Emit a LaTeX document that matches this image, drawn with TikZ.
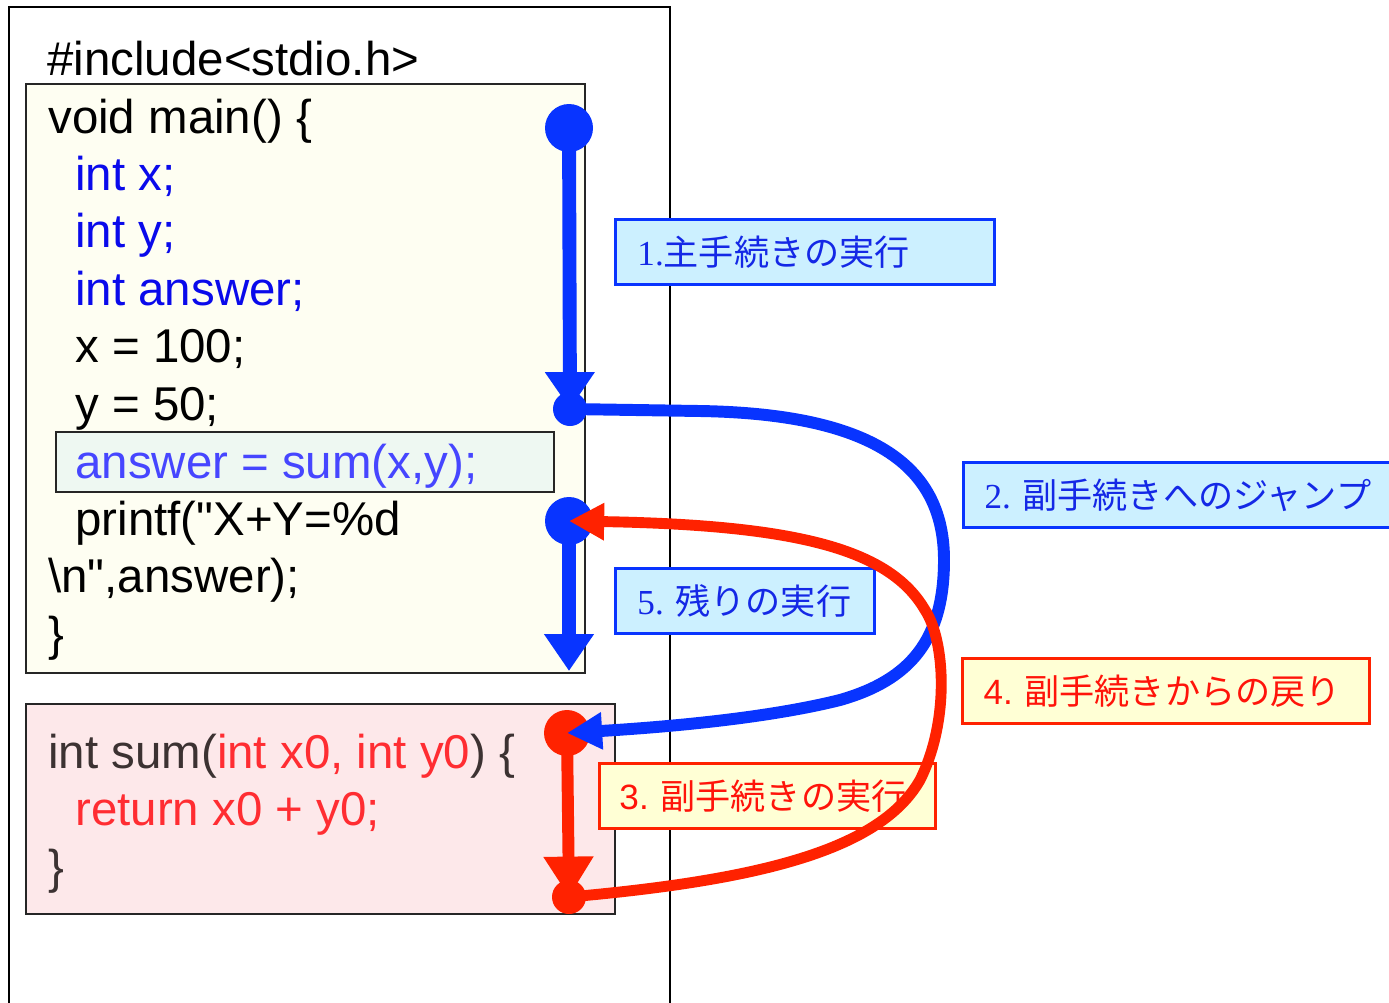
\documentclass[tikz,border=0pt]{standalone}
\usepackage{fontspec}
\setmainfont{Liberation Sans}
\newfontfamily\jp{Noto Sans CJK JP}
\newfontfamily\sernum{Liberation Serif}
\newfontfamily\plainq{Liberation Sans}[Ligatures=ResetAll]
\usetikzlibrary{arrows.meta}
\definecolor{arrblue}{RGB}{8,52,255}
\definecolor{arrred}{RGB}{255,34,0}
\definecolor{codeblue}{RGB}{10,10,235}
\definecolor{calltext}{RGB}{70,70,255}
\definecolor{sumdark}{RGB}{60,50,50}
\definecolor{sumred}{RGB}{255,45,50}
\definecolor{mainfill}{RGB}{254,254,242}
\definecolor{sumfill}{RGB}{253,232,234}
\definecolor{callfill}{RGB}{238,248,242}
\definecolor{labblue}{RGB}{204,240,255}
\definecolor{labyellow}{RGB}{255,255,213}
\definecolor{labbluetext}{RGB}{20,40,230}
\definecolor{labredtext}{RGB}{255,20,10}
\begin{document}
\begin{tikzpicture}[x=0.02cm,y=-0.02cm,
  code/.style={anchor=base west, inner sep=0, font=\fontsize{27}{30}\selectfont},
  codebox/.style={draw=black!85, line width=1.1pt, anchor=north west, inner sep=0},
  lab/.style={line width=1.7pt, anchor=north west, align=left, inner ysep=0,
    minimum height=1.3cm, font=\fontsize{20}{24}\selectfont\jp},
  bluelab/.style={lab, draw=arrblue, fill=labblue, text=labbluetext},
  redlab/.style={lab, draw=arrred, fill=labyellow, text=labredtext},
  bdot/.style={circle, fill=arrblue, inner sep=0},
  rdot/.style={circle, fill=arrred, inner sep=0},
  vflowb/.style={draw=arrblue, line width=7.9pt, -{Triangle[width=27pt,length=21pt]}},
  vflowr/.style={draw=arrred, line width=6.8pt, -{Triangle[width=27pt,length=23pt]}},
  cflowb/.style={draw=arrblue, line width=6.8pt, -{Triangle[width=20pt,length=20pt]}},
  cflowr/.style={draw=arrred, line width=6.2pt, -{Triangle[width=20pt,length=20pt]}}
]
\useasboundingbox (0,0) rectangle (1389,1002);
\clip (0,0) rectangle (1389,1002);

% outer frame (open at the bottom)
\draw[line width=1.3pt] (9,1010) -- (9,7) -- (670,7) -- (670,1010);

% code boxes
\node[codebox, fill=mainfill, minimum width=11.18cm, minimum height=11.78cm] (mainbox) at (25,83) {};
\node[codebox, fill=callfill, minimum width=9.96cm, minimum height=1.2cm] (callbox) at (55,431) {};
\node[codebox, fill=sumfill, minimum width=11.78cm, minimum height=4.2cm] (sumbox) at (25,703) {};

% code text
\node[code] (c0) at (47,75) {\#include<stdio.h>};
\node[code] (c1) at (48,133) {void main() \{};
\node[code, text=codeblue] (c2) at (75,190) {int x;};
\node[code, text=codeblue] (c3) at (75,247) {int y;};
\node[code, text=codeblue] (c4) at (75,305) {int answer;};
\node[code] (c5) at (75,362) {x = 100;};
\node[code] (c6) at (75,420) {y = 50;};
\node[code, text=calltext] (c7) at (75,478) {answer = sum(x,y);};
\node[code] (c8) at (75,535) {printf({\plainq"}X+Y=\%d};
\node[code] (c9) at (48,592) {\textbackslash n{\plainq"},answer);};
\node[code] (c10) at (48,650) {\}};

\node[code, text=sumdark] (s0) at (48,768) {int sum(\textcolor{sumred}{int x0, int y0}) \{};
\node[code, text=sumred] (s1) at (75,825) {return x0 + y0;};
\node[code, text=sumdark] (s2) at (48,883) {\}};

% labels
\node[bluelab, text width=6.7cm, inner xsep=0.44cm] (l1) at (614,218) {{\sernum 1.}主手続きの実行};
\node[bluelab, text width=8.4cm, inner xsep=0.42cm] (l2) at (962,461) {{\sernum 2.}~副手続きへのジャンプ};
\node[bluelab, text width=4.3cm, inner xsep=0.44cm] (l5) at (614,567) {{\sernum 5.}~残りの実行};
\node[redlab, text width=7.3cm, inner xsep=0.42cm] (l4) at (961,657) {{\fontspec{Liberation Sans}4.}~副手続きからの戻り};
\node[redlab, text width=5.92cm, inner xsep=0.4cm] (l3) at (598,762) {{\fontspec{Liberation Sans}3.}~副手続きの実行};

% dots
\node[bdot, minimum size=0.96cm] (b1) at (569,128) {};
\node[bdot, minimum size=0.68cm] (b2) at (570,409) {};
\node[bdot, minimum size=0.96cm] (b3) at (569,521) {};
\coordinate (b4) at (569,671);
\node[rdot, minimum size=0.92cm] (r1) at (567,733) {};
\node[rdot, minimum size=0.68cm] (r2) at (569,897) {};

% vertical flow arrows
\draw[vflowb] (b1.center) -- (b2.center);
\draw[vflowb] (b3.center) -- (b4);
\draw[vflowr] (r1.center) -- (r2.center);

% jump and return curves
\draw[cflowb] (b2.center) -- (700,411) .. controls (880,414) and (944,470) .. (944,560)
  .. controls (944,640) and (910,680) .. (840,700)
  .. controls (760,720) and (650,728) .. (r1.center);
\draw[cflowr] (r2.center) .. controls (760,880) and (880,850) .. (920,780)
  .. controls (950,720) and (945,640) .. (925,610)
  .. controls (890,550) and (800,525) .. (b3.center);
\end{tikzpicture}
\end{document}
